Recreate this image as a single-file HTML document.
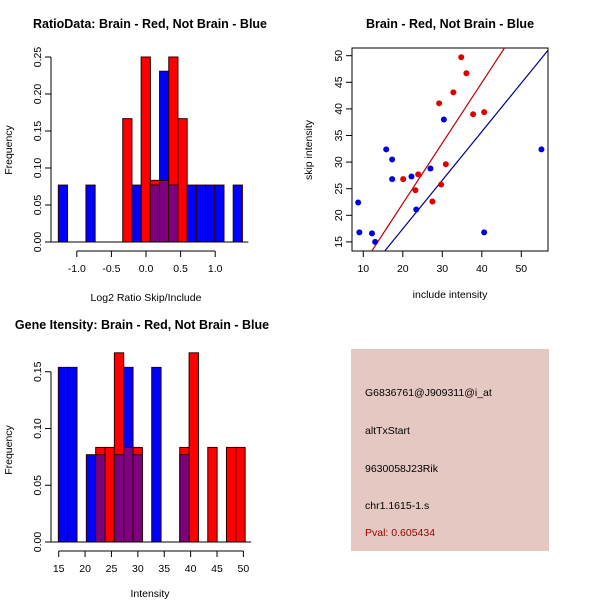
<!DOCTYPE html>
<html><head><meta charset="utf-8"><style>
html,body{margin:0;padding:0;background:#fff}
svg{display:block;font-family:"Liberation Sans",sans-serif}
</style></head><body>
<svg id="chart" width="600" height="600" viewBox="0 0 600 600">
<rect width="600" height="600" fill="#fff"/>
<text x="150" y="28" text-anchor="middle" font-size="12.5" font-weight="bold">RatioData: Brain - Red, Not Brain - Blue</text>
<text x="450" y="28" text-anchor="middle" font-size="12.5" font-weight="bold">Brain - Red, Not Brain - Blue</text>
<text x="142" y="329" text-anchor="middle" font-size="12.5" font-weight="bold">Gene Itensity: Brain - Red, Not Brain - Blue</text>
<text x="146" y="301" text-anchor="middle" font-size="10.5">Log2 Ratio Skip/Include</text>
<text transform="translate(12,150) rotate(-90)" text-anchor="middle" font-size="10.5">Frequency</text>
<text x="450" y="298" text-anchor="middle" font-size="10.5">include intensity</text>
<text transform="translate(312,150) rotate(-90)" text-anchor="middle" font-size="10.5">skip intensity</text>
<text x="150" y="597" text-anchor="middle" font-size="10.5">Intensity</text>
<text transform="translate(12,450) rotate(-90)" text-anchor="middle" font-size="10.5">Frequency</text>
<g>
<rect x="351" y="349" width="198" height="202" fill="#e6c8c2"/>
<text x="365" y="396" font-size="10.5">G6836761@J909311@i_at</text>
<text x="365" y="434" font-size="10.5">altTxStart</text>
<text x="365" y="472" font-size="10.5">9630058J23Rik</text>
<text x="365" y="509" font-size="10.5">chr1.1615-1.s</text>
<text x="365" y="536" font-size="10.5" fill="#9b0000">Pval: 0.605434</text>
</g>
<g id="g1"></g><g id="g2"></g><g id="g3"></g>
</svg>
<script>
// Ratio histogram data
const ratioBinStart = -1.267;
const ratioBinWidth = 0.133;
const ratioBlueCounts = [1,0,0,1,0,0,0,0,1,0,1,3,1,0,1,1,1,1,0,1];
const ratioRedCounts  = [0,0,0,0,0,0,0,2,0,3,1,1,3,2,0,0,0,0,0,0];
const ratioXTicks = [-1.0,-0.5,0.0,0.5,1.0];
const ratioXTickLabels = ["-1.0","-0.5","0.0","0.5","1.0"];
const ratioYTicks = [0,0.05,0.10,0.15,0.20,0.25];
const ratioYTickLabels = ["0.00","0.05","0.10","0.15","0.20","0.25"];
// Intensity histogram data
const intBinStart = 14.93;
const intBinWidth = 1.77;
const intBlueCounts = [2,2,0,1,1,0,1,2,1,0,2,0,0,1,0,0,0,0,0,0];
const intRedCounts  = [0,0,0,0,1,1,2,1,1,0,0,0,0,1,2,0,1,0,1,1];
const intXTicks = [15,20,25,30,35,40,45,50];
const intYTicks = [0,0.05,0.10,0.15];
const intYTickLabels = ["0.00","0.05","0.10","0.15"];
// Scatter data
const redInclude = [34.8,36.1,32.8,29.2,37.8,40.6,30.9,23.9,20.1,23.2,29.7,27.5];
const redSkip    = [49.7,46.7,43.1,41.05,39.0,39.4,29.6,27.7,26.8,24.7,25.8,22.6];
const blueInclude = [30.4,15.8,17.3,17.3,22.2,27.0,23.4,8.7,9.0,12.2,13.0,40.6,55.1];
const blueSkip    = [38.0,32.4,30.5,26.8,27.3,28.8,21.1,22.4,16.8,16.6,15.0,16.8,32.4];
const redFit = [-0.51, 1.136];
const blueFit = [-0.80, 0.913];
const scatXTicks = [10,20,30,40,50];
const scatYTicks = [15,20,25,30,35,40,45,50];

const NS="http://www.w3.org/2000/svg";
function mk(parent,tag,attrs){const e=document.createElementNS(NS,tag);for(const k in attrs)e.setAttribute(k,attrs[k]);parent.appendChild(e);return e;}

function histogram(g,cfg){
  const X=v=>cfg.x0px+(v-cfg.x0)*cfg.xs, Y=v=>cfg.y0px-v*cfg.ys;
  const nb=cfg.blue.reduce((a,b)=>a+b,0), nr=cfg.red.reduce((a,b)=>a+b,0);
  for(let i=0;i<cfg.blue.length;i++){
    const l=X(cfg.start+i*cfg.w), r=X(cfg.start+(i+1)*cfg.w);
    const b=cfg.blue[i]/nb, rd=cfg.red[i]/nr;
    const lo=Math.min(b,rd), hi=Math.max(b,rd);
    if(hi<=0) continue;
    const topCol = b>rd?"#0000ff":"#ff0000";
    let e=mk(g,"rect",{x:l,y:Y(hi),width:r-l,height:Y(0)-Y(hi),fill:topCol,stroke:"#2a0000","stroke-width":1});
    
    
    if(lo>0){
      e=mk(g,"rect",{x:l,y:Y(lo),width:r-l,height:Y(0)-Y(lo),fill:"#7f007f",stroke:"#2a0000","stroke-width":1});
      
      
    }
  }
  // y axis
  const yt=cfg.yTicks;
  let ax=mk(g,"line",{x1:cfg.yAxisX,x2:cfg.yAxisX,y1:Y(yt[0]),y2:Y(yt[yt.length-1]),stroke:"#000"});
  
  
  yt.forEach((v,i)=>{
    mk(g,"line",{x1:cfg.yAxisX-6,x2:cfg.yAxisX,y1:Y(v),y2:Y(v),stroke:"#000"});
    const t=mk(g,"text",{transform:`translate(${cfg.yAxisX-10},${Y(v)}) rotate(-90)`,"text-anchor":"middle","font-size":10.5});
    t.textContent=cfg.yLabels[i];
    
    
  });
  // baseline
  mk(g,"line",{x1:X(cfg.start)-10,x2:X(cfg.start+cfg.blue.length*cfg.w)+6,y1:Y(0),y2:Y(0),stroke:"#000"});
  // x axis
  const xt=cfg.xTicks;
  ax=mk(g,"line",{x1:X(xt[0]),x2:X(xt[xt.length-1]),y1:cfg.xAxisY,y2:cfg.xAxisY,stroke:"#000"});
  
  
  xt.forEach((v,i)=>{
    mk(g,"line",{x1:X(v),x2:X(v),y1:cfg.xAxisY,y2:cfg.xAxisY+6,stroke:"#000"});
    const t=mk(g,"text",{x:X(v),y:cfg.xAxisY+21,"text-anchor":"middle","font-size":10.5});
    t.textContent=cfg.xLabels[i];
    
    
  });
}
histogram(document.getElementById("g1"),{x0:0,x0px:146,xs:69.2,y0px:242,ys:740,start:ratioBinStart,w:ratioBinWidth,
  blue:ratioBlueCounts,red:ratioRedCounts,xTicks:ratioXTicks,xLabels:ratioXTickLabels,yTicks:ratioYTicks,yLabels:ratioYTickLabels,yAxisX:51,xAxisY:251});
histogram(document.getElementById("g3"),{x0:15,x0px:58.7,xs:5.277,y0px:542,ys:1135,start:intBinStart,w:intBinWidth,
  blue:intBlueCounts,red:intRedCounts,xTicks:intXTicks,xLabels:intXTicks.map(String),yTicks:intYTicks,yLabels:intYTickLabels,yAxisX:51,xAxisY:551});

// scatter
(function(){
  const g=document.getElementById("g2");
  const X=v=>363.3+(v-10)*3.95, Y=v=>55.7+(50-v)*5.32;
  const L=352,R=548,T=48,B=251;
  const cp=mk(g,"clipPath",{id:"sc"});mk(cp,"rect",{x:L,y:T,width:R-L,height:B-T});
  let f=mk(g,"rect",{x:L,y:T,width:R-L,height:B-T,fill:"none",stroke:"#000"});
  
  
  function fitLine(fit,col,name){
    const xa=0,xb=70;
    const l=mk(g,"line",{x1:X(xa),y1:Y(fit[0]+fit[1]*xa),x2:X(xb),y2:Y(fit[0]+fit[1]*xb),stroke:col,"stroke-width":1.2,"clip-path":"url(#sc)"});
    
    
  }
  fitLine(redFit,"#c00000","red-fit-line");
  fitLine(blueFit,"#00008b","blue-fit-line");
  redInclude.forEach((v,i)=>{const c=mk(g,"circle",{cx:X(v),cy:Y(redSkip[i]),r:3,fill:"#e00000"});
    
    });
  blueInclude.forEach((v,i)=>{const c=mk(g,"circle",{cx:X(v),cy:Y(blueSkip[i]),r:3,fill:"#0000e0"});
    
    });
  scatXTicks.forEach(v=>{mk(g,"line",{x1:X(v),x2:X(v),y1:B,y2:B+6,stroke:"#000"});
    const t=mk(g,"text",{x:X(v),y:B+21,"text-anchor":"middle","font-size":10.5});t.textContent=v;
    
    });
  scatYTicks.forEach(v=>{mk(g,"line",{x1:L-6,x2:L,y1:Y(v),y2:Y(v),stroke:"#000"});
    const t=mk(g,"text",{transform:`translate(${L-10},${Y(v)}) rotate(-90)`,"text-anchor":"middle","font-size":10.5});t.textContent=v;
    
    });
})();
</script>
</body></html>
